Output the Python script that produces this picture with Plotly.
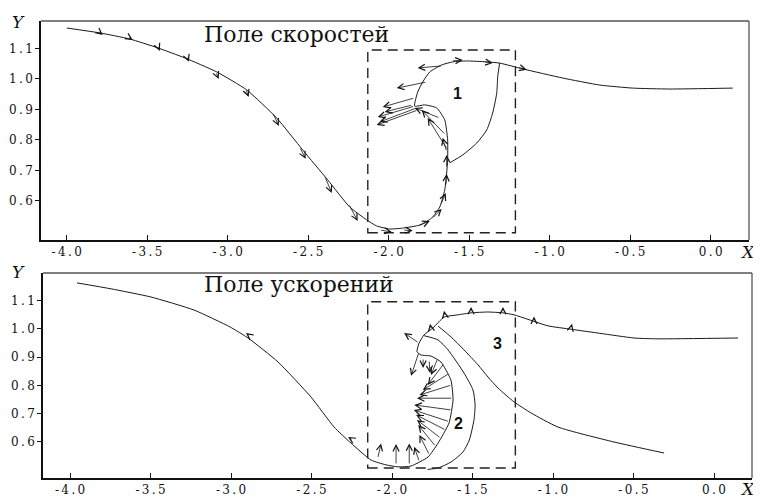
import plotly.graph_objects as go

# ---------------- data : top panel (velocity field) ----------------
vel_curve_x = [-4.0, -3.795, -3.609, -3.435, -3.267, -3.068, -2.882, -2.696, -2.534, -2.379,
               -2.242, -2.137, -2.075, -1.994, -1.913, -1.807, -1.733, -1.683, -1.652, -1.640,
               -1.634, -1.634, -1.652, -1.702, -1.776, -1.839, -1.820, -1.789, -1.745, -1.671,
               -1.602, -1.516, -1.391, -1.311, -1.168, -0.919, -0.689, -0.484, -0.255, 0.137]
vel_curve_y = [1.167, 1.151, 1.131, 1.102, 1.069, 1.023, 0.964, 0.872, 0.767, 0.669,
               0.580, 0.538, 0.518, 0.508, 0.511, 0.521, 0.544, 0.580, 0.636, 0.692,
               0.734, 0.800, 0.866, 0.905, 0.915, 0.911, 0.957, 0.990, 1.023, 1.046,
               1.056, 1.059, 1.056, 1.052, 1.033, 1.003, 0.980, 0.970, 0.967, 0.970]

vel_line1_x = [-1.311, -1.323, -1.329, -1.354, -1.391, -1.453, -1.540, -1.621]
vel_line1_y = [1.052, 1.007, 0.954, 0.889, 0.833, 0.790, 0.751, 0.725]

vel_arrow_x0 = [-3.807, -3.621, -3.435, -3.255, -3.075, -2.888, -2.720, -2.553, -2.398, -2.248,
                -2.056, -1.913, -1.820, -1.733, -1.677, -1.646, -1.640, -1.640, -1.634, -1.646,
                -1.683, -1.839, -1.826, -1.820, -1.851, -1.839, -1.764, -1.665, -1.609, -1.410,
                -1.199, -0.938, -0.702, -0.484, -0.255]
vel_arrow_y0 = [1.157, 1.138, 1.108, 1.075, 1.023, 0.967, 0.889, 0.777, 0.682, 0.590,
                0.505, 0.505, 0.518, 0.541, 0.587, 0.649, 0.708, 0.761, 0.767, 0.816,
                0.872, 0.911, 0.905, 0.898, 0.915, 0.938, 0.990, 1.043, 1.059, 1.056,
                1.039, 1.007, 0.984, 0.970, 0.967]
vel_arrow_x1 = [-3.776, -3.590, -3.422, -3.242, -3.056, -2.870, -2.683, -2.516, -2.354, -2.193,
                -1.981, -1.851, -1.745, -1.671, -1.646, -1.640, -1.640, -1.665, -1.758, -1.795,
                -1.839, -2.068, -2.056, -2.075, -2.025, -2.037, -1.950, -1.820, -1.540, -1.354,
                -1.143, -0.919, -0.689, -0.484, -0.255]
vel_arrow_y1 = [1.144, 1.128, 1.092, 1.056, 1.000, 0.941, 0.846, 0.738, 0.626, 0.534,
                0.498, 0.502, 0.534, 0.574, 0.626, 0.689, 0.751, 0.807, 0.872, 0.898,
                0.905, 0.875, 0.859, 0.849, 0.892, 0.908, 0.970, 1.036, 1.062, 1.052,
                1.030, 0.997, 0.974, 0.961, 0.957]

# ---------------- data : bottom panel (acceleration field) ----------------
acc_curve_x = [-3.957, -3.745, -3.497, -3.230, -3.006, -2.894, -2.708, -2.503, -2.360, -2.255,
               -2.130, -2.037, -1.963, -1.882, -1.776, -1.714, -1.646, -1.621, -1.634, -1.696,
               -1.758, -1.820, -1.845, -1.832, -1.801, -1.745, -1.677, -1.590, -1.509, -1.404,
               -1.311, -1.242, -1.031, -0.888, -0.702, -0.497, -0.348, 0.149]
acc_curve_y = [1.163, 1.142, 1.113, 1.067, 1.007, 0.968, 0.883, 0.759, 0.653, 0.596,
               0.536, 0.519, 0.512, 0.515, 0.547, 0.596, 0.667, 0.749, 0.819, 0.883,
               0.904, 0.908, 0.919, 0.950, 0.979, 1.004, 1.042, 1.050, 1.057, 1.060,
               1.057, 1.050, 1.011, 0.999, 0.984, 0.968, 0.965, 0.968]

acc_line2_x = [-1.800, -1.714, -1.652, -1.553, -1.497, -1.484, -1.491, -1.520, -1.559, -1.634, -1.714, -1.780]
acc_line2_y = [0.976, 0.961, 0.926, 0.844, 0.784, 0.731, 0.678, 0.607, 0.565, 0.529, 0.508, 0.503]

acc_line3_x = [-1.714, -1.634, -1.553, -1.466, -1.404, -1.340, -1.242, -1.137, -0.969, -0.621, -0.310]
acc_line3_y = [1.010, 0.972, 0.926, 0.873, 0.830, 0.790, 0.742, 0.703, 0.653, 0.600, 0.561]

acc_arrow_x0 = [-2.882, -2.242, -2.089, -1.975, -1.893,
                -1.716, -1.675, -1.644, -1.629, -1.623, -1.629, -1.644, -1.665, -1.696, -1.727, -1.768, -1.830,
                -1.832, -1.807, -1.770, -1.832,
                -1.758, -1.671, -1.509, -1.311, -1.118, -0.888, -0.497]
acc_arrow_y0 = [0.975, 0.607, 0.542, 0.519, 0.519,
                0.896, 0.879, 0.843, 0.802, 0.755, 0.713, 0.672, 0.642, 0.613, 0.583, 0.554, 0.530,
                0.919, 0.897, 0.890, 0.950,
                1.000, 1.046, 1.057, 1.057, 1.030, 1.004, 0.968]
acc_arrow_x1 = [-2.907, -2.273, -2.068, -1.975, -1.893,
                -1.758, -1.778, -1.809, -1.830, -1.845, -1.862, -1.865, -1.851, -1.845, -1.837, -1.830, -1.862,
                -1.882, -1.807, -1.764, -1.925,
                -1.764, -1.677, -1.509, -1.311, -1.118, -0.882, -0.491]
acc_arrow_y1 = [0.986, 0.618, 0.595, 0.593, 0.595,
                0.837, 0.802, 0.784, 0.766, 0.755, 0.731, 0.713, 0.696, 0.678, 0.660, 0.625, 0.583,
                0.834, 0.862, 0.844, 0.986,
                1.018, 1.064, 1.078, 1.078, 1.044, 1.018, 0.979]

# ---------------- axes, boxes, labels ----------------
x_ticks = [-4.0, -3.5, -3.0, -2.5, -2.0, -1.5, -1.0, -0.5, 0.0]
x_tick_labels = ["-4.0", "-3.5", "-3.0", "-2.5", "-2.0", "-1.5", "-1.0", "-0.5", "0.0"]
y_ticks = [0.6, 0.7, 0.8, 0.9, 1.0, 1.1]
y_tick_labels = ["0.6", "0.7", "0.8", "0.9", "1.0", "1.1"]

vel_box = [-2.130, -1.213, 0.496, 1.095]   # x0, x1, y0, y1
acc_box = [-2.151, -1.234, 0.508, 1.096]

panel_titles = ["Поле скоростей", "Поле ускорений"]
region_label_text = ["1", "2", "3"]
region_label_x = [-1.571, -1.584, -1.342]
region_label_y = [0.951, 0.664, 0.947]
region_label_panel = [0, 1, 1]


def spaced(s):
    return "\u2009".join(s)


fig = go.Figure()
line_style = dict(color="#1a1a1a", width=1)

fig.add_trace(go.Scatter(x=vel_curve_x, y=vel_curve_y, mode="lines", line=dict(**line_style, shape="spline", smoothing=0.5),
                         xaxis="x", yaxis="y", showlegend=False, hoverinfo="skip"))
fig.add_trace(go.Scatter(x=vel_line1_x, y=vel_line1_y, mode="lines", line=dict(**line_style, shape="spline", smoothing=0.6),
                         xaxis="x", yaxis="y", showlegend=False, hoverinfo="skip"))
fig.add_trace(go.Scatter(x=acc_curve_x, y=acc_curve_y, mode="lines", line=dict(**line_style, shape="spline", smoothing=0.5),
                         xaxis="x2", yaxis="y2", showlegend=False, hoverinfo="skip"))
fig.add_trace(go.Scatter(x=acc_line2_x, y=acc_line2_y, mode="lines", line=dict(**line_style, shape="spline", smoothing=0.6),
                         xaxis="x2", yaxis="y2", showlegend=False, hoverinfo="skip"))
fig.add_trace(go.Scatter(x=acc_line3_x, y=acc_line3_y, mode="lines", line=dict(**line_style, shape="spline", smoothing=0.6),
                         xaxis="x2", yaxis="y2", showlegend=False, hoverinfo="skip"))

annotations = []
arrow_style = dict(text="", showarrow=True, arrowhead=5, arrowsize=1.5, arrowwidth=0.8,
                   arrowcolor="#111", standoff=0, startstandoff=0)
for x0, y0, x1, y1 in zip(vel_arrow_x0, vel_arrow_y0, vel_arrow_x1, vel_arrow_y1):
    annotations.append(dict(x=x1, y=y1, ax=x0, ay=y0, xref="x", yref="y", axref="x", ayref="y", **arrow_style))
for x0, y0, x1, y1 in zip(acc_arrow_x0, acc_arrow_y0, acc_arrow_x1, acc_arrow_y1):
    annotations.append(dict(x=x1, y=y1, ax=x0, ay=y0, xref="x2", yref="y2", axref="x2", ayref="y2", **arrow_style))

serif = "DejaVu Serif"
# panel titles
annotations.append(dict(text=panel_titles[0], x=0.258, y=0.9449, xref="paper", yref="paper",
                        xanchor="left", yanchor="middle", showarrow=False,
                        font=dict(family=serif, size=22, color="#111")))
annotations.append(dict(text=panel_titles[1], x=0.258, y=0.4347, xref="paper", yref="paper",
                        xanchor="left", yanchor="middle", showarrow=False,
                        font=dict(family=serif, size=22, color="#111")))
# axis letters
for xx, yy, t in [(0.0133, 0.9714, "Y"), (0.0133, 0.4612, "Y"), (0.9825, 0.5020, "X"), (0.9825, 0.0184, "X")]:
    annotations.append(dict(text="<i>%s</i>" % t, x=xx, y=yy, xref="paper", yref="paper",
                            xanchor="center", yanchor="middle", showarrow=False,
                            font=dict(family=serif, size=17, color="#111")))
# region numbers
for t, xx, yy, p in zip(region_label_text, region_label_x, region_label_y, region_label_panel):
    annotations.append(dict(text="<b>%s</b>" % t, x=xx, y=yy, xref="x" if p == 0 else "x2",
                            yref="y" if p == 0 else "y2", showarrow=False,
                            font=dict(family="Liberation Sans", size=16, color="#111")))

shapes = []
for box, xr, yr in [(vel_box, "x", "y"), (acc_box, "x2", "y2")]:
    shapes.append(dict(type="rect", x0=box[0], x1=box[1], y0=box[2], y1=box[3], xref=xr, yref=yr,
                       line=dict(color="#222", width=1.4, dash="10px,6px")))
for xd, yd in [("x domain", "y domain"), ("x2 domain", "y2 domain")]:
    shapes.append(dict(type="line", x0=0, x1=1, y0=1, y1=1, xref=xd, yref=yd, line=dict(color="#555", width=1.3)))
    shapes.append(dict(type="line", x0=1, x1=1, y0=0, y1=1, xref=xd, yref=yd, line=dict(color="#555", width=1.3)))

tick_font = dict(family=serif, size=12, color="#111")
xaxis_common = dict(tickmode="array", tickvals=x_ticks, ticktext=[spaced(s) for s in x_tick_labels],
                    ticks="inside", ticklen=5, tickwidth=1, tickcolor="#111",
                    showline=True, linecolor="#111", linewidth=1.6, showgrid=False, zeroline=False,
                    tickfont=tick_font, fixedrange=True)
yaxis_common = dict(tickmode="array", tickvals=y_ticks, ticktext=[spaced(s) for s in y_tick_labels],
                    ticks="outside", ticklen=4, tickwidth=1, tickcolor="#111",
                    showline=True, linecolor="#111", linewidth=1.6, showgrid=False, zeroline=False,
                    tickfont=tick_font, fixedrange=True)

# page body has an 8px default margin, so the figure is 753x490 and sits at (8, 8)
fig.update_layout(
    width=753, height=490, autosize=False,
    margin=dict(l=0, r=0, t=0, b=0),
    paper_bgcolor="white", plot_bgcolor="white",
    xaxis=dict(domain=[0.04382, 0.98406], range=[-4.16, 0.238], anchor="y", **xaxis_common),
    yaxis=dict(domain=[0.52653, 0.97347], range=[0.472, 1.19], anchor="x", **yaxis_common),
    xaxis2=dict(domain=[0.04648, 0.98805], range=[-4.168, 0.236], anchor="y2", **xaxis_common),
    yaxis2=dict(domain=[0.04082, 0.45918], range=[0.4726, 1.198], anchor="x2", **yaxis_common),
    annotations=annotations,
    shapes=shapes,
    showlegend=False,
)

fig.write_html("out.html")
